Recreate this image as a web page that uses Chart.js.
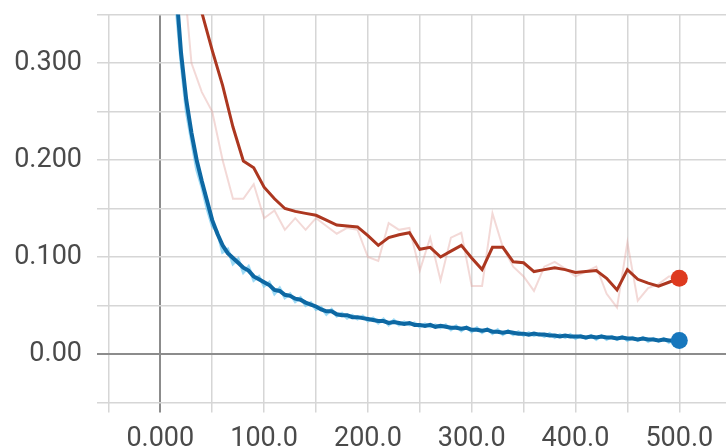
<!DOCTYPE html>
<html>
<head>
<meta charset="utf-8">
<script src="https://cdn.jsdelivr.net/npm/chart.js@4.4.1/dist/chart.umd.min.js"></script>
<style>
  html, body { margin: 0; padding: 0; background: #fff; }
  #wrap { width: 726px; height: 448px; }
</style>
</head>
<body>
<div id="wrap"><canvas id="lossChart" width="726" height="448"></canvas></div>
<script>
// steps of the two runs
var blueSteps = [5,10,15,20,25,30,35,40,45,50,55,60,65,70,75,80,85,90,95,100,
	105,110,115,120,125,130,135,140,145,150,155,160,165,170,175,180,185,190,195,200,
	205,210,215,220,225,230,235,240,245,250,255,260,265,270,275,280,285,290,295,300,
	305,310,315,320,325,330,335,340,345,350,355,360,365,370,375,380,385,390,395,400,
	405,410,415,420,425,430,435,440,445,450,455,460,465,470,475,480,485,490,495,500];

// smoothed (dark) blue curve
var blueSmooth = [0.62,0.48,0.38,0.31,0.262,0.228,0.200,0.178,0.158,0.138,
	0.124,0.112,0.104,0.099,0.094,0.089,0.086,0.080,0.077,0.074,
	0.071,0.066,0.065,0.061,0.060,0.057,0.056,0.053,0.051,0.049,
	0.046,0.044,0.044,0.041,0.040,0.040,0.038,0.038,0.037,0.036,
	0.035,0.034,0.034,0.032,0.033,0.032,0.031,0.032,0.030,0.030,
	0.029,0.030,0.028,0.029,0.028,0.027,0.027,0.026,0.027,0.025,
	0.025,0.024,0.025,0.023,0.023,0.022,0.023,0.022,0.021,0.021,
	0.020,0.021,0.020,0.020,0.019,0.019,0.018,0.019,0.018,0.018,
	0.018,0.017,0.018,0.017,0.018,0.017,0.017,0.016,0.017,0.016,
	0.016,0.015,0.016,0.015,0.015,0.014,0.015,0.014,0.014,0.014];

// raw (light) blue curve
var blueRaw = [0.58,0.45,0.36,0.30,0.25,0.22,0.19,0.172,0.150,0.132,
	0.126,0.105,0.108,0.093,0.098,0.084,0.090,0.076,0.080,0.070,
	0.074,0.062,0.068,0.058,0.062,0.054,0.058,0.050,0.053,0.046,
	0.048,0.041,0.046,0.039,0.042,0.037,0.040,0.036,0.039,0.034,
	0.037,0.032,0.036,0.030,0.035,0.030,0.033,0.030,0.032,0.028,
	0.031,0.028,0.030,0.027,0.030,0.025,0.029,0.024,0.028,0.023,
	0.027,0.022,0.026,0.021,0.025,0.020,0.024,0.020,0.023,0.019,
	0.022,0.019,0.021,0.018,0.021,0.017,0.020,0.017,0.020,0.016,
	0.019,0.016,0.019,0.015,0.019,0.015,0.018,0.015,0.018,0.014,
	0.017,0.014,0.017,0.013,0.016,0.013,0.016,0.012,0.015,0.014];

var redSteps = [10,20,30,40,50,60,70,80,90,100,110,120,130,140,150,160,170,180,190,200,
	210,220,230,240,250,260,270,280,290,300,310,320,330,340,350,360,370,380,390,400,
	410,420,430,440,450,460,470,480,490,500];

var redSmooth = [0.55,0.47,0.40,0.352,0.313,0.277,0.234,0.199,0.192,0.172,
	0.160,0.150,0.147,0.145,0.143,0.138,0.133,0.132,0.131,0.122,
	0.112,0.120,0.123,0.125,0.108,0.110,0.100,0.106,0.112,0.099,
	0.087,0.110,0.110,0.095,0.094,0.085,0.087,0.089,0.087,0.084,
	0.085,0.086,0.078,0.066,0.087,0.077,0.073,0.070,0.074,0.078];

var redRaw = [0.70,0.42,0.30,0.27,0.25,0.20,0.16,0.16,0.175,0.14,
	0.148,0.128,0.14,0.128,0.14,0.132,0.124,0.13,0.128,0.10,
	0.096,0.135,0.128,0.13,0.086,0.12,0.076,0.12,0.125,0.07,
	0.07,0.145,0.11,0.09,0.08,0.065,0.09,0.095,0.088,0.08,
	0.085,0.09,0.062,0.048,0.115,0.055,0.068,0.072,0.08,0.08];

function toPoints(xs, ys){
	var pts = [];
	for (var i = 0; i < xs.length; i++) pts.push({x: xs[i], y: ys[i]});
	return pts;
}

function lastDot(r){
	return function(ctx){ return ctx.dataIndex === ctx.dataset.data.length - 1 ? r : 0; };
}

function noPad(scale){
	scale.paddingTop = 0;
	scale.paddingBottom = 0;
	scale.paddingLeft = 0;
	scale.paddingRight = 0;
}

var tickFont = { family: 'Roboto', size: 27 };

var ctx = document.getElementById('lossChart').getContext('2d');
var lossChart = new Chart(ctx, {
	type: 'line',
	data: {
		datasets: [
			{
				data: toPoints(redSteps, redSmooth),
				borderColor: '#ac3720',
				borderWidth: 3,
				pointRadius: lastDot(8.5),
				pointBackgroundColor: '#de3a1f',
				pointBorderWidth: 0,
				tension: 0
			},
			{
				data: toPoints(blueSteps, blueSmooth),
				borderColor: '#0d68a3',
				borderWidth: 4,
				pointRadius: lastDot(8.5),
				pointBackgroundColor: '#1777bd',
				pointBorderWidth: 0,
				tension: 0
			},
			{
				data: toPoints(redSteps, redRaw),
				borderColor: 'rgba(225,160,155,0.4)',
				borderWidth: 2,
				pointRadius: 0,
				tension: 0
			},
			{
				data: toPoints(blueSteps, blueRaw),
				borderColor: 'rgba(95,195,240,0.6)',
				borderWidth: 3,
				pointRadius: 0,
				tension: 0
			}
		]
	},
	options: {
		responsive: false,
		animation: false,
		events: [],
		layout: { autoPadding: false, padding: { top: 14.5, right: 0, left: 0, bottom: 0 } },
		plugins: { legend: { display: false }, tooltip: { enabled: false } },
		scales: {
			x: {
				type: 'linear',
				min: -61,
				max: 545,
				border: { display: false },
				grid: {
					drawTicks: true,
					tickLength: 10,
					color: function(c){ return c.tick && c.tick.value === 0 ? '#8c8c8c' : '#d6d6d6'; },
					lineWidth: function(c){ return c.tick && c.tick.value === 0 ? 2 : 1.5; }
				},
				ticks: {
					stepSize: 50,
					includeBounds: false,
					autoSkip: false,
					maxRotation: 0,
					minRotation: 0,
					padding: 11,
					color: '#4a4a4a',
					font: tickFont,
					callback: function(v){
						if (v === 0) return '0.000';
						if (v % 100 === 0 && v > 0) return v.toFixed(1);
						return '';
					}
				},
				afterFit: function(scale){ scale.height = 45.5; noPad(scale); }
			},
			y: {
				min: -0.05,
				max: 0.35,
				border: { display: false },
				grid: {
					drawTicks: false,
					color: function(c){ return c.tick && Math.abs(c.tick.value) < 1e-9 ? '#8c8c8c' : '#d6d6d6'; },
					lineWidth: function(c){ return c.tick && Math.abs(c.tick.value) < 1e-9 ? 2 : 1.5; }
				},
				ticks: {
					stepSize: 0.05,
					includeBounds: false,
					autoSkip: false,
					padding: 15,
					color: '#4a4a4a',
					font: tickFont,
					callback: function(v){
						var m = Math.round(v * 1000);
						if (m === 0) return '0.00';
						if (m > 0 && m % 100 === 0) return (m / 1000).toFixed(3);
						return '';
					}
				},
				afterFit: function(scale){ scale.width = 97; noPad(scale); }
			}
		}
	}
});
</script>
</body>
</html>
